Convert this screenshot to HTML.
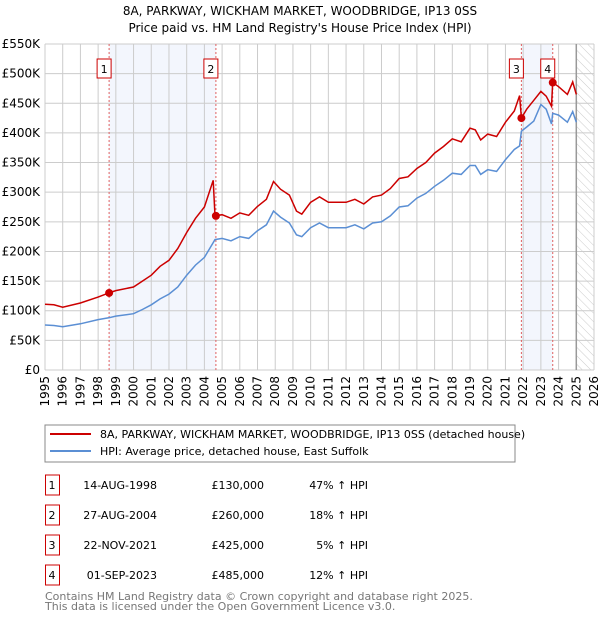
<!DOCTYPE html>
<html><head><meta charset="utf-8"><style>
body{margin:0;background:#fff;font-family:"DejaVu Sans","Liberation Sans",sans-serif;}
svg text{font-family:"DejaVu Sans","Liberation Sans",sans-serif;}
</style></head><body>
<svg id="c" width="600" height="620" xmlns="http://www.w3.org/2000/svg">
<defs><pattern id="hatch" width="6" height="6" patternUnits="userSpaceOnUse" patternTransform="rotate(-45)"><line x1="0" y1="0" x2="0" y2="6" stroke="#ccc" stroke-width="1"/></pattern></defs>
<text x="300" y="15" text-anchor="middle" font-size="12">8A, PARKWAY, WICKHAM MARKET, WOODBRIDGE, IP13 0SS</text>
<text x="300" y="32" text-anchor="middle" font-size="12">Price paid vs. HM Land Registry's House Price Index (HPI)</text>
<g id="plot"></g>
<rect x="45" y="425" width="470" height="37" fill="#fff" stroke="#888"/>
<line x1="50" y1="434" x2="91" y2="434" stroke="#cc0000" stroke-width="2"/>
<text x="100" y="438" font-size="11">8A, PARKWAY, WICKHAM MARKET, WOODBRIDGE, IP13 0SS (detached house)</text>
<line x1="50" y1="451" x2="91" y2="451" stroke="#5b8fd4" stroke-width="2"/>
<text x="100" y="455" font-size="11">HPI: Average price, detached house, East Suffolk</text>
<g id="table" font-size="11"></g>
<text x="45" y="600" font-size="11" fill="#777">Contains HM Land Registry data © Crown copyright and database right 2025.</text>
<text x="45" y="610" font-size="11" fill="#777">This data is licensed under the Open Government Licence v3.0.</text>
</svg>
<script>
const years=[1995,1995.5,1996,1997,1998,1998.6,1999,2000,2000.5,2001,2001.5,2002,2002.5,2003,2003.5,2004,2004.5,2004.6,2005,2005.5,2006,2006.5,2007,2007.5,2007.9,2008.3,2008.8,2009.2,2009.5,2010,2010.5,2011,2012,2012.5,2013,2013.5,2014,2014.5,2015,2015.5,2016,2016.5,2017,2017.5,2018,2018.5,2019,2019.3,2019.6,2020,2020.5,2021,2021.5,2021.8,2021.9,2022.2,2022.6,2023,2023.3,2023.6,2023.67,2024,2024.5,2024.8,2025];
const hpi=[76,75,73,78,85,88,91,95,102,110,120,128,140,160,177,190,215,220,222,218,225,222,235,245,268,258,248,228,225,240,248,240,240,245,238,248,250,260,275,277,290,298,310,320,332,330,345,345,330,338,335,355,372,378,403,410,420,448,440,415,433,430,418,436,418];
const price=[111,110,106,113,123,130,134,140,150,160,175,185,205,232,256,275,320,260,262,256,265,261,276,288,318,305,295,268,263,283,292,283,283,288,280,292,295,306,323,326,340,350,366,377,390,385,408,405,388,398,394,418,437,463,425,440,455,470,462,445,485,478,465,486,465];
const saleYears=[1998.62,2004.65,2021.9,2023.67];
const salePrices=[130,260,425,485];
const saleLabels=["1","2","3","4"];
const saleDates=["14-AUG-1998","27-AUG-2004","22-NOV-2021","01-SEP-2023"];
const salePriceText=["£130,000","£260,000","£425,000","£485,000"];
const saleHpiText=["47% ↑ HPI","18% ↑ HPI","5% ↑ HPI","12% ↑ HPI"];
const yTicks=[0,50,100,150,200,250,300,350,400,450,500,550];
const yTickLabels=["£0","£50K","£100K","£150K","£200K","£250K","£300K","£350K","£400K","£450K","£500K","£550K"];
const xTicks=[1995,1996,1997,1998,1999,2000,2001,2002,2003,2004,2005,2006,2007,2008,2009,2010,2011,2012,2013,2014,2015,2016,2017,2018,2019,2020,2021,2022,2023,2024,2025,2026];
const NS="http://www.w3.org/2000/svg";
const X0=45,X1=594,Y0=370,Y1=44;
const xs=y=>X0+(y-1995)/(2026-1995)*(X1-X0);
const ys=v=>Y0-v/550*(Y0-Y1);
const plot=document.getElementById('plot');
function mk(t,a,p){const e=document.createElementNS(NS,t);for(const k in a)e.setAttribute(k,a[k]);(p||plot).appendChild(e);return e;}
let r=mk('rect',{x:xs(saleYears[0]),y:Y1,width:xs(saleYears[1])-xs(saleYears[0]),height:Y0-Y1,fill:'#f3f6fd'});


r=mk('rect',{x:xs(saleYears[2]),y:Y1,width:xs(saleYears[3])-xs(saleYears[2]),height:Y0-Y1,fill:'#f3f6fd'});


r=mk('rect',{x:xs(2025),y:Y1,width:X1-xs(2025),height:Y0-Y1,fill:'url(#hatch)'});


yTicks.forEach((v,i)=>{
 const l=mk('line',{x1:X0,x2:X1,y1:ys(v),y2:ys(v),stroke:'#ccc'});
 
 
 const t=mk('text',{x:40,y:ys(v)+4,'text-anchor':'end','font-size':12});
 t.textContent=yTickLabels[i];
 
 
});
xTicks.forEach(y=>{
 const l=mk('line',{x1:xs(y),x2:xs(y),y1:Y1,y2:Y0,stroke:'#ccc'});
 
 
 const t=mk('text',{x:0,y:0,'font-size':12,'text-anchor':'end',transform:`translate(${xs(y)+4},${Y0+6}) rotate(-90)`});
 t.textContent=y;
 
 
});
const bl=mk('line',{x1:xs(2025),x2:xs(2025),y1:Y1,y2:Y0,stroke:'#999','stroke-width':1.5});


saleYears.forEach((y,i)=>{
 const l=mk('line',{x1:xs(y),x2:xs(y),y1:Y1,y2:Y0,stroke:'#e06060','stroke-dasharray':'2,2'});
 
 
});
function pts(a){return years.map((y,i)=>xs(y).toFixed(1)+','+ys(a[i]).toFixed(1)).join(' ');}
let p=mk('polyline',{points:pts(hpi),fill:'none',stroke:'#5b8fd4','stroke-width':1.5});


p=mk('polyline',{points:pts(price),fill:'none',stroke:'#cc0000','stroke-width':1.5});


saleYears.forEach((y,i)=>{
 const c=mk('circle',{cx:xs(y),cy:ys(salePrices[i]),r:4,fill:'#cc0000'});
 
 
 const bx=mk('rect',{x:xs(y)-12,y:59,width:14,height:19,fill:'#fff',stroke:'#cc0000'});
 
 
 const t=mk('text',{x:xs(y)-5,y:73,'text-anchor':'middle','font-size':11});
 t.textContent=saleLabels[i];
 
 
});
const tb=document.getElementById('table');
saleLabels.forEach((s,i)=>{
 const y=485+i*30;
 const b=mk('rect',{x:45.5,y:y-10,width:14,height:20,fill:'#fff',stroke:'#cc0000'},tb);
 
 
 const vals=[[52,s,'middle'],[157,saleDates[i],'end'],[264,salePriceText[i],'end'],[368,saleHpiText[i],'end']];
 vals.forEach(v=>{
  const t=mk('text',{x:v[0],y:y+4,'text-anchor':v[2]},tb);
  t.textContent=v[1];
  
  
 });
});
</script>
</body></html>
